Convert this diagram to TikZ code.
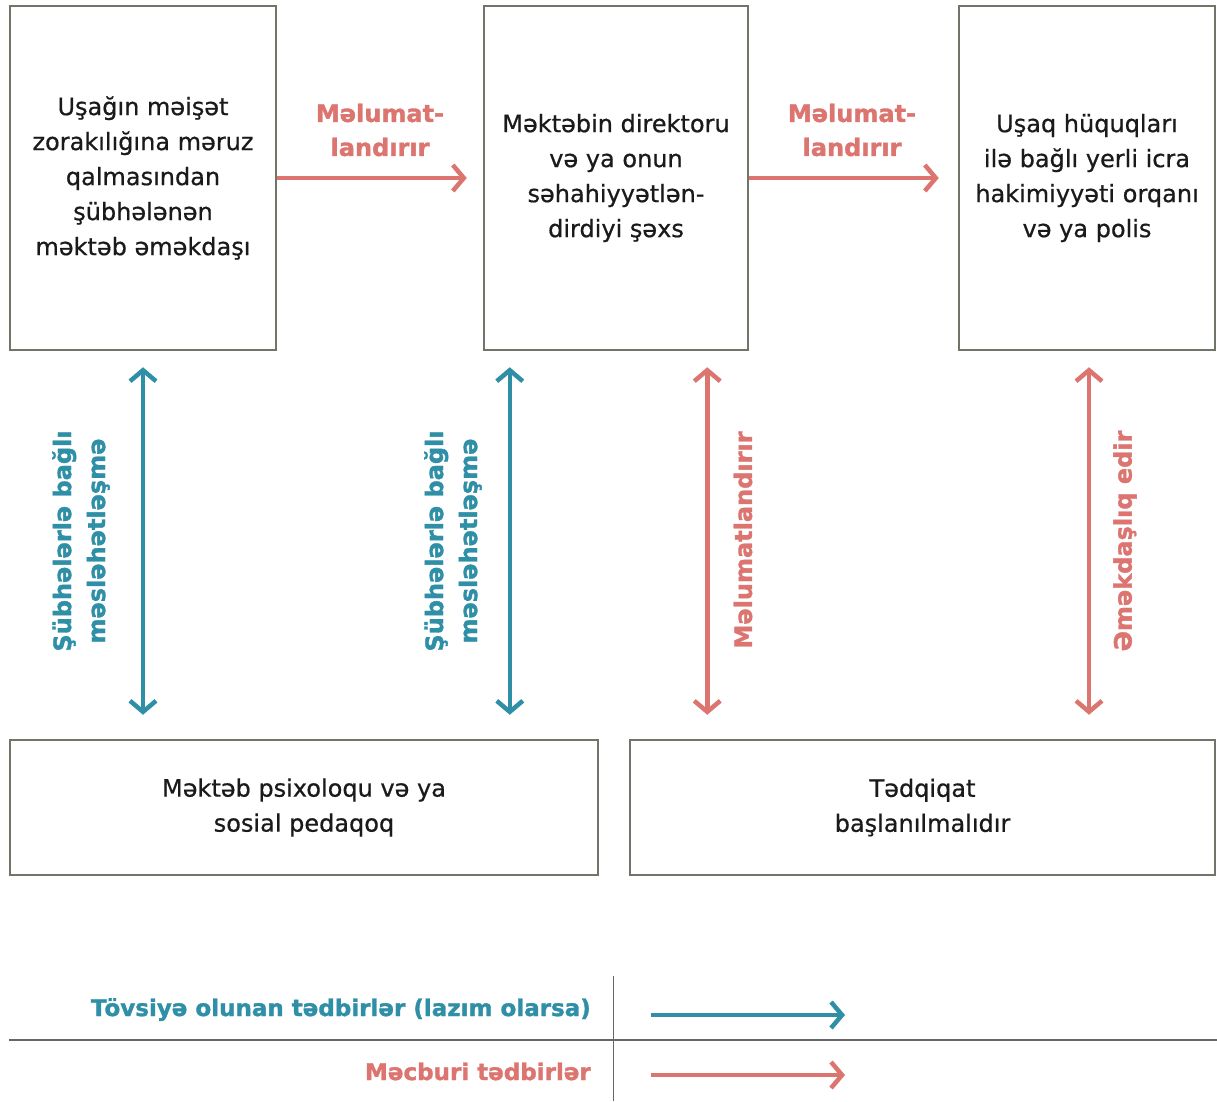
\documentclass[tikz,border=0pt]{standalone}
\usepackage{fontspec}
\setmainfont{DejaVu Sans}[UprightFeatures={FakeBold=0.6},BoldFeatures={FakeBold=1.4}]
\usetikzlibrary{arrows.meta,calc}
\definecolor{tealc}{HTML}{2E8FA6}
\definecolor{pinkc}{HTML}{DC746F}
\definecolor{boxc}{HTML}{6F7568}
\definecolor{legc}{HTML}{666666}
\definecolor{txtc}{HTML}{1A1A1A}
\begin{document}
\begin{tikzpicture}[x=1pt,y=-1pt,
  box/.style={draw=boxc, line width=2.5pt, fill=white, inner sep=0pt, align=center,
    text=txtc, font=\fontsize{24}{35}\selectfont},
  tip/.style={},
  tarrow/.style={draw=tealc, line width=4.5pt, {Straight Barb[length=11pt,width=26pt]}-{Straight Barb[length=11pt,width=26pt]}},
  parrow/.style={draw=pinkc, line width=4.5pt, {Straight Barb[length=11pt,width=26pt]}-{Straight Barb[length=11pt,width=26pt]}},
  hparrow/.style={draw=pinkc, line width=4.5pt, -{Straight Barb[length=11pt,width=26pt]}},
  htarrow/.style={draw=tealc, line width=4.5pt, -{Straight Barb[length=11pt,width=26pt]}},
  tlabel/.style={text=tealc, font=\bfseries\fontsize{24}{34}\selectfont, align=center, inner sep=0pt},
  plabel/.style={text=pinkc, font=\bfseries\fontsize{24}{34}\selectfont, align=center, inner sep=0pt},
  legline/.style={draw=legc, line width=1.5pt}
]
\useasboundingbox (0,0) rectangle (1217,1101);
\fill[white] (0,0) rectangle (1217,1101);

% boxes
\node[box, minimum width=266pt, minimum height=344pt] (b1) at (143,178)
  {Uşağın məişət\\zorakılığına məruz\\qalmasından\\şübhələnən\\məktəb əməkdaşı};
\node[box, minimum width=264pt, minimum height=344pt] (b2) at (616,178)
  {Məktəbin direktoru\\və ya onun\\səhahiyyətlən-\\dirdiyi şəxs};
\node[box, minimum width=256pt, minimum height=344pt] (b3) at (1087,178)
  {Uşaq hüquqları\\ilə bağlı yerli icra\\hakimiyyəti orqanı\\və ya polis};
\node[box, minimum width=588pt, minimum height=135pt] (b4) at (304,807.5)
  {Məktəb psixoloqu və ya\\sosial pedaqoq};
\node[box, minimum width=585pt, minimum height=135pt] (b5) at (922.5,807.5)
  {Tədqiqat\\başlanılmalıdır};

% horizontal arrows
\draw[hparrow, shorten >=16pt] (b1.east) -- (b2.west);
\draw[hparrow, shorten >=19pt] (b2.east) -- (b3.west);
\node[plabel] (l1) at (380,130) {Məlumat-\\landırır};
\node[plabel] (l2) at (852,130) {Məlumat-\\landırır};

% vertical arrows
\draw[tarrow, shorten <=16pt, shorten >=24pt] (b1.south) -- (b1.south |- b4.north);
\coordinate (c2) at ([xshift=27pt]b2.south west);
\draw[tarrow, shorten <=16pt, shorten >=24pt] (c2) -- (c2 |- b4.north);
\coordinate (c3) at ([xshift=-42pt]b2.south east);
\draw[parrow, shorten <=16pt, shorten >=24pt] (c3) -- (c3 |- b5.north);
\coordinate (c4) at ([xshift=2pt]b3.south);
\draw[parrow, shorten <=16pt, shorten >=24pt] (c4) -- (c4 |- b5.north);

% rotated labels
\node[tlabel, rotate=90] (r1) at (81,541) {Şübhələrlə bağlı\\məsləhətləşmə};
\node[tlabel, rotate=90] (r2) at (453,541) {Şübhələrlə bağlı\\məsləhətləşmə};
\node[plabel, rotate=90] (r3) at (743,540) {Məlumatlandırır};
\node[plabel, rotate=90] (r4) at (1125,541) {Əməkdaşlıq edir};

% legend
\coordinate (lv1) at (613.5,976);
\coordinate (lv2) at (613.5,1101);
\coordinate (lh1) at (9,1040);
\coordinate (lh2) at (1217,1040);
\draw[legline] (lv1) -- (lv2);
\draw[legline] (lh1) -- (lh2);
\node[tlabel, anchor=base east, font=\bfseries\fontsize{23}{28}\selectfont] (t1) at (591,1016) {Tövsiyə olunan tədbirlər (lazım olarsa)};
\node[plabel, anchor=base east, font=\bfseries\fontsize{23}{28}\selectfont] (t2) at (591,1080) {Məcburi tədbirlər};
\coordinate (a1s) at (651,1015);
\coordinate (a1e) at (845,1015);
\coordinate (a2s) at (651,1075);
\coordinate (a2e) at (845,1075);
\draw[htarrow] (a1s) -- (a1e);
\draw[hparrow] (a2s) -- (a2e);
\end{tikzpicture}
\end{document}
